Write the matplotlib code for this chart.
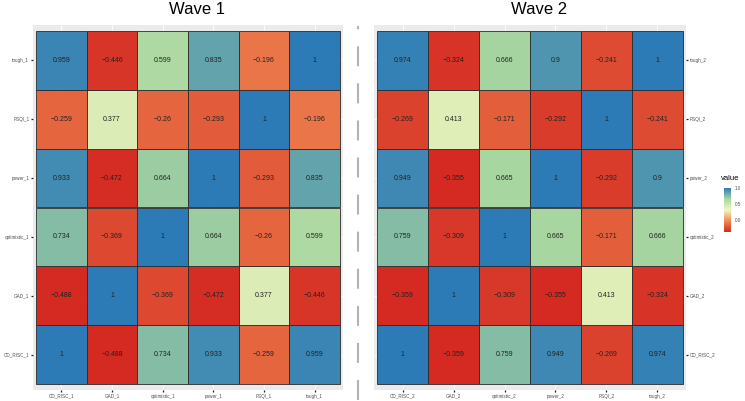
import numpy as np
import matplotlib
matplotlib.use("Agg")
from matplotlib import pyplot as plt
from matplotlib.colors import LinearSegmentedColormap, Normalize
from matplotlib.lines import Line2D

plt.rcParams['font.family'] = ['Liberation Sans', 'DejaVu Sans']

# Data (rows bottom -> top, columns left -> right)
vars_w1 = ["CD_RISC_1", "GAD_1", "optimistic_1", "power_1", "PSQI_1", "tough_1"]
vars_w2 = ["CD_RISC_2", "GAD_2", "optimistic_2", "power_2", "PSQI_2", "tough_2"]

corr_w1 = [
    [1, -0.488, 0.734, 0.933, -0.259, 0.959],
    [-0.488, 1, -0.369, -0.472, 0.377, -0.446],
    [0.734, -0.369, 1, 0.664, -0.26, 0.599],
    [0.933, -0.472, 0.664, 1, -0.293, 0.835],
    [-0.259, 0.377, -0.26, -0.293, 1, -0.196],
    [0.959, -0.446, 0.599, 0.835, -0.196, 1],
]
corr_w2 = [
    [1, -0.359, 0.759, 0.949, -0.269, 0.974],
    [-0.359, 1, -0.309, -0.355, 0.413, -0.324],
    [0.759, -0.309, 1, 0.665, -0.171, 0.666],
    [0.949, -0.355, 0.665, 1, -0.292, 0.9],
    [-0.269, 0.413, -0.171, -0.292, 1, -0.241],
    [0.974, -0.324, 0.666, 0.9, -0.241, 1],
]

cmap = LinearSegmentedColormap.from_list(
    "spec5", ["#d42a22", "#f08a52", "#f4f6c0", "#a9d7a0", "#2c7bb6"])

W, H = 745, 401
fig = plt.figure(figsize=(W / 100, H / 100), dpi=100)


def px_axes(x0, x1, y0, y1):
    return fig.add_axes([x0 / W, 1 - y1 / H, (x1 - x0) / W, (y1 - y0) / H])


def draw_panel(ax, mat, labels, title, right=False):
    mat = np.array(mat, dtype=float)
    norm = Normalize(vmin=mat.min(), vmax=mat.max())
    ax.set_facecolor("#ebebeb")
    n = len(labels)
    for i in range(n):
        ax.axvline(i, color="white", lw=0.6, zorder=0)
        ax.axhline(i, color="white", lw=0.6, zorder=0)
    for r in range(n):
        for c in range(n):
            v = mat[r, c]
            ax.add_patch(plt.Rectangle((c - 0.5, r - 0.5), 1, 1,
                                       facecolor=cmap(norm(v)),
                                       edgecolor="#2a2a2a", lw=0.6, zorder=2))
            txt = f"{v:g}".replace("-", "\u2212")
            ax.text(c, r, txt, ha="center", va="center", fontsize=5,
                    color="#222222", zorder=3)
    ax.set_xlim(-0.56, n - 0.44)
    ax.set_ylim(-0.6, n - 0.4)
    ax.set_xticks(range(n))
    ax.set_xticklabels(labels)
    ax.set_yticks(range(n))
    ax.set_yticklabels(labels)
    ax.tick_params(labelsize=3.3, colors="#222222", length=1.5, width=0.9,
                   labelcolor="#4d4d4d", pad=1.2)
    if right:
        ax.yaxis.tick_right()
    for s in ax.spines.values():
        s.set_visible(False)
    ax.set_title(title, fontsize=12, pad=8, x=0.53)
    return norm


ax1 = px_axes(33, 343, 25, 390)
draw_panel(ax1, corr_w1, vars_w1, "Wave 1")
ax2 = px_axes(374, 686, 25, 390)
norm2 = draw_panel(ax2, corr_w2, vars_w2, "Wave 2", right=True)

# separator
fig.add_artist(Line2D([357.5 / W, 357.5 / W], [1 - 400 / H, 1 - 26 / H],
                      transform=fig.transFigure, color="#b3b3b3", lw=1.5,
                      dashes=(9.6, 8.2)))

# legend (wave 2 scale)
cax = px_axes(724, 731, 188, 232)
sm = plt.cm.ScalarMappable(norm=norm2, cmap=cmap)
cb = fig.colorbar(sm, cax=cax, ticks=[0.0, 0.5, 1.0])
cb.ax.set_yticklabels(["0.0", "0.5", "1.0"])
cb.outline.set_visible(False)
cb.ax.tick_params(labelsize=3.3, length=1.5, colors="white", labelcolor="#4d4d4d",
                  pad=1.5)
fig.text(721 / W, 1 - 178 / H, "value", fontsize=5.5, va="center", ha="left")

fig.savefig("out.png", dpi=100)
